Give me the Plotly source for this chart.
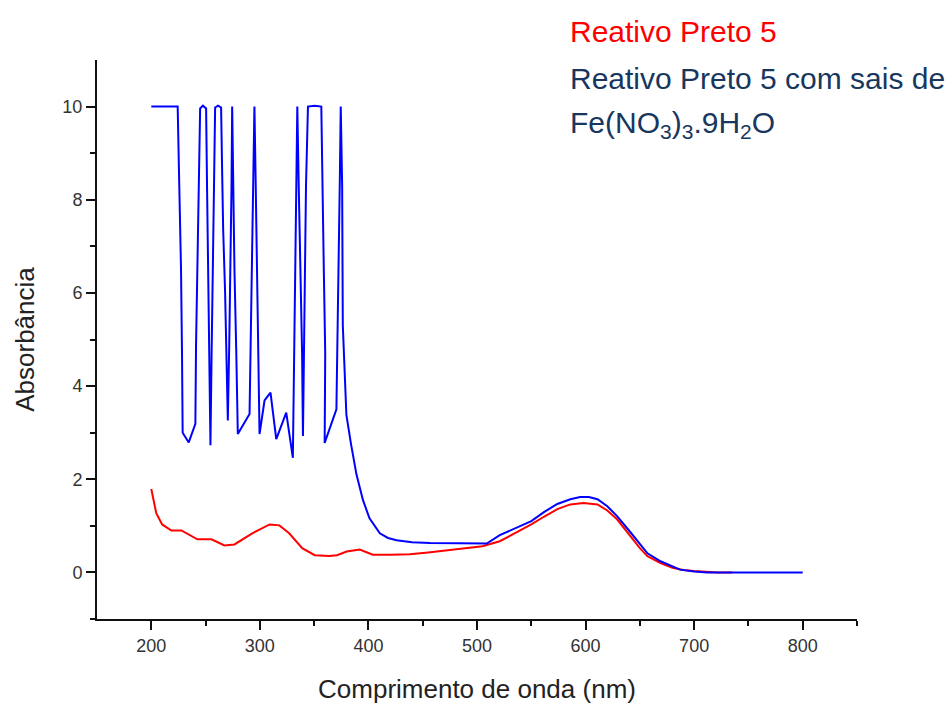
import plotly.graph_objects as go

# Reativo Preto 5 (red)
red_nm = [200, 204.6, 210, 218.5, 227.7, 242.5, 255.4, 267.4, 276.6, 293, 309, 318, 327,
          339, 350.5, 364, 371, 380, 392, 404, 420, 438, 455, 472, 490, 505, 521, 535, 550,
          562, 574, 586, 598, 611, 620, 629, 640, 650, 657, 669, 680, 690, 700, 712, 722, 735]
red_abs = [1.79, 1.27, 1.03, 0.90, 0.90, 0.71, 0.71, 0.58, 0.60, 0.84, 1.03, 1.01, 0.84,
           0.52, 0.37, 0.35, 0.37, 0.45, 0.49, 0.38, 0.38, 0.39, 0.43, 0.47, 0.52, 0.56, 0.67, 0.84, 1.03,
           1.2, 1.36, 1.46, 1.49, 1.46, 1.33, 1.14, 0.82, 0.52, 0.35, 0.2, 0.1, 0.05, 0.03, 0.01, 0.0, 0.0]

# Reativo Preto 5 com sais de Fe(NO3)3.9H2O (blue)
blue_nm = [200, 224.3, 225.8, 227.4, 228.3, 228.9, 234.5, 240.6, 241.2, 242.6, 243.5, 245,
           247.5, 250.5, 251.4, 252.6, 253.5, 254.5, 255.5, 256.8, 257.8, 258.8, 261.5, 264.3,
           265.2, 266.2, 268, 269.3, 270.5, 271.8, 273, 273.9, 274.5, 275.3, 276.6, 278.3, 279.7,
           290.5, 291.5, 292.8, 293.7, 295, 296.2, 297.3, 298.6, 299.7,
           304.3, 309.8, 315.1, 324.3, 330.4, 331.2, 332.2, 333.6, 334.5,
           335.8, 337.6, 338.9, 339.7, 340.8, 341.6, 342.5, 344.3, 350.5, 356.6,
           357.5, 358.9, 360.2, 359.7, 370.5, 371.8, 372.8, 373.7, 374.5, 375.8, 376.4, 379.7,
           384, 389, 395, 401, 410.5, 418, 426, 440, 456.6, 480, 509,
           521, 535, 550, 562, 574, 586, 595, 603, 611, 620, 629, 640, 650, 657, 669, 680, 687,
           700, 712, 740, 770, 800]
blue_abs = [10, 10, 8.28, 6.49, 4.7, 3.0, 2.79, 3.19, 4.85, 6.57, 8.28, 9.96,
            10.02, 9.96, 8.2, 6.38, 4.6, 2.73, 4.6, 6.4, 8.3, 9.98, 10.02, 9.98,
            8.7, 7.37, 6.0, 4.7, 3.26, 4.9, 6.5, 8.3, 10.0, 8.3, 6.5, 4.7, 2.97,
            3.4, 5.0, 6.6, 8.3, 10.0, 8.3, 6.5, 4.7, 2.97,
            3.69, 3.86, 2.86, 3.43, 2.46, 4.2, 6.3, 8.3, 10.0,
            8.3, 6.5, 4.7, 2.93, 4.7, 6.5, 8.3, 10.0, 10.02, 10.0,
            8.3, 6.5, 4.7, 2.78, 3.5, 5.3, 6.9, 8.5, 10.0, 8.3, 5.3, 3.38,
            2.75, 2.1, 1.55, 1.16, 0.84, 0.74, 0.69, 0.65, 0.63, 0.62, 0.62,
            0.8, 0.95, 1.1, 1.3, 1.47, 1.57, 1.62, 1.62, 1.57, 1.42, 1.21, 0.9, 0.6, 0.41, 0.24, 0.12, 0.06,
            0.02, 0.0, 0.0, 0.0, 0.0]

x_ticks = [200, 300, 400, 500, 600, 700, 800]
y_ticks = [0, 2, 4, 6, 8, 10]

FONT = "Arial, 'Liberation Sans', sans-serif"
TICKCOL = "#333333"

fig = go.Figure()
fig.add_trace(go.Scatter(x=red_nm, y=red_abs, mode="lines",
                         line=dict(color="#FF0000", width=2), name="Reativo Preto 5"))
fig.add_trace(go.Scatter(x=blue_nm, y=blue_abs, mode="lines",
                         line=dict(color="#0000FF", width=2),
                         name="Reativo Preto 5 com sais de Fe(NO3)3.9H2O"))

fig.update_layout(
    width=952, height=704,
    margin=dict(l=97, r=95, t=60, b=85),
    paper_bgcolor="white", plot_bgcolor="white",
    showlegend=False,
    font=dict(family=FONT),
    xaxis=dict(range=[150, 850], tickvals=x_ticks, ticks="outside", ticklen=9, tickwidth=2,
               tickcolor="#111", showline=True, linecolor="#111", linewidth=2,
               showgrid=False, zeroline=False, automargin=False,
               tickfont=dict(size=18, color=TICKCOL, family=FONT),
               minor=dict(tickvals=[250, 350, 450, 550, 650, 750, 850], ticks="outside",
                          ticklen=5, tickwidth=2, tickcolor="#111"),
               title=dict(text="Comprimento de onda (nm)", standoff=26,
                          font=dict(size=26, color="#222", family=FONT))),
    yaxis=dict(range=[-1, 11], tickvals=y_ticks, ticks="outside", ticklen=9, tickwidth=2,
               tickcolor="#111", showline=True, linecolor="#111", linewidth=2,
               showgrid=False, zeroline=False, automargin=False,
               tickfont=dict(size=18, color=TICKCOL, family=FONT),
               minor=dict(tickvals=[-1, 1, 3, 5, 7, 9], ticks="outside",
                          ticklen=5, tickwidth=2, tickcolor="#111"),
               title=dict(text="Absorbância", standoff=20,
                          font=dict(size=26, color="#222", family=FONT))),
)

legend_lines = [
    ("Reativo Preto 5", "#FF0000", 32),
    ("Reativo Preto 5 com sais de", "#17375E", 78),
    ("Fe(NO<sub>3</sub>)<sub>3</sub>.9H<sub>2</sub>O", "#17375E", 125),
]
for text, col, ypix in legend_lines:
    fig.add_annotation(text=text, xref="paper", yref="paper",
                       x=(568 - 97) / (952 - 97 - 95), y=1 + (60 - ypix) / (704 - 60 - 85),
                       xanchor="left", yanchor="middle", showarrow=False,
                       font=dict(size=30, color=col, family=FONT))

fig.write_html("out.html")
